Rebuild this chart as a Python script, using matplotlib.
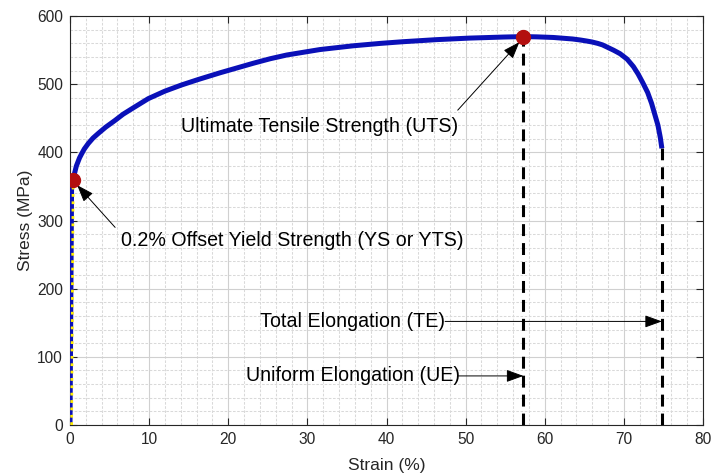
import matplotlib
matplotlib.use("Agg")
import matplotlib.pyplot as plt
from matplotlib.ticker import MultipleLocator

plt.rcParams['font.family'] = ['Liberation Sans', 'DejaVu Sans']

# Engineering stress-strain curve (strain in %, stress in MPa)
strain = [0.0, 0.2, 0.4, 0.5, 0.63, 0.8, 1.0, 1.2, 1.47, 1.8, 2.3, 2.9,
          3.58, 4.5, 5.69, 6.7, 7.8, 9.9, 12.0, 14.1, 16.2, 19.0, 23.2,
          25.3, 27.4, 31.6, 35.8, 39.2, 42.1, 46.3, 50.5, 54.7, 57.3, 59.0,
          61.1, 63.5, 64.5, 65.3, 66.0, 66.7, 67.3, 67.8, 68.7, 69.5, 70.4,
          71.2, 71.8, 72.4, 73.0, 73.5, 73.9, 74.3, 74.6, 74.8]
stress = [0, 355, 360, 366, 372, 380, 386, 392, 398, 405, 413, 421,
          428, 437, 447, 456, 464, 479, 490, 499, 507, 517, 531,
          537.5, 543, 551, 556.5, 560, 562.5, 565.5, 567.8, 569.3, 570, 569.6,
          568.7, 566.5, 565, 563.5, 562, 560, 557.8, 555, 550, 545, 537,
          526, 515, 502, 488, 472, 456, 440, 422, 406]

# 0.2 % offset line
offset_strain = [0.2, 0.4]
offset_stress = [0, 360]

# Key points
ys_strain, ys_stress = 0.4, 360
uts_strain, uts_stress = 57.3, 570
te_strain, te_stress = 74.8, 406

labels = {
    "ys": "0.2% Offset Yield Strength (YS or YTS)",
    "uts": "Ultimate Tensile Strength (UTS)",
    "te": "Total Elongation (TE)",
    "ue": "Uniform Elongation (UE)",
}

fig = plt.figure(figsize=(7.13, 4.75), dpi=100)
ax = fig.add_axes([0.0982, 0.1053, 0.8878, 0.8607])

ax.set_xlim(0, 80)
ax.set_ylim(0, 600)
ax.xaxis.set_major_locator(MultipleLocator(10))
ax.xaxis.set_minor_locator(MultipleLocator(2))
ax.yaxis.set_major_locator(MultipleLocator(100))
ax.yaxis.set_minor_locator(MultipleLocator(20))
ax.grid(which='major', color='#d0d0d0', linestyle='-', linewidth=0.8)
ax.grid(which='minor', color='#d9d9d9', linestyle=(0, (2.5, 1.5)),
        linewidth=0.75)
ax.set_axisbelow(True)

ax.tick_params(which='major', direction='in', length=5, width=0.8,
               top=True, right=True, colors='#262626', labelsize=11.2,
               pad=5)
ax.tick_params(which='minor', length=0)
for s in ax.spines.values():
    s.set_color('#262626')
    s.set_linewidth(0.8)

ax.set_xlabel("Strain (%)", fontsize=12.5, color='#262626', labelpad=8)
ax.set_ylabel("Stress (MPa)", fontsize=12.5, color='#262626', labelpad=3)

# Elongation markers
dash_kw = dict(color='black', linewidth=2.2, dashes=(3.9, 2.3), zorder=3)
ax.plot([uts_strain, uts_strain], [0, uts_stress], **dash_kw)
ax.plot([te_strain, te_strain], [0, te_stress], **dash_kw)

ax.plot(strain, stress, color='#0a10b8', linewidth=3.6, zorder=4,
        solid_capstyle='butt', solid_joinstyle='round')
ax.plot(offset_strain, offset_stress, color='#ffee00', linewidth=2.0,
        linestyle=':', zorder=5)

ax.plot([ys_strain, uts_strain], [ys_stress, uts_stress], 'o',
        color='#b30f0f', markersize=10, zorder=6)

arrow_kw = dict(arrowstyle='-|>,head_length=1.05,head_width=0.38',
                color='black', linewidth=0.7, mutation_scale=10,
                shrinkA=0, shrinkB=0)
txt_kw = dict(fontsize=14.1, ha='left', va='center', color='black')

ax.text(6.45, 271, labels["ys"], **txt_kw)
ax.annotate('', xy=(0.9, 352), xytext=(5.7, 290), arrowprops=arrow_kw)

ax.text(14.0, 438, labels["uts"], **txt_kw)
ax.annotate('', xy=(56.8, 562), xytext=(49.0, 462), arrowprops=arrow_kw)

ax.text(24.0, 152, labels["te"], **txt_kw)
ax.annotate('', xy=(te_strain, 152), xytext=(47.4, 152), arrowprops=arrow_kw)

ax.text(22.2, 72, labels["ue"], **txt_kw)
ax.annotate('', xy=(uts_strain, 72), xytext=(49.1, 72), arrowprops=arrow_kw)

fig.savefig("out.png", dpi=100)
